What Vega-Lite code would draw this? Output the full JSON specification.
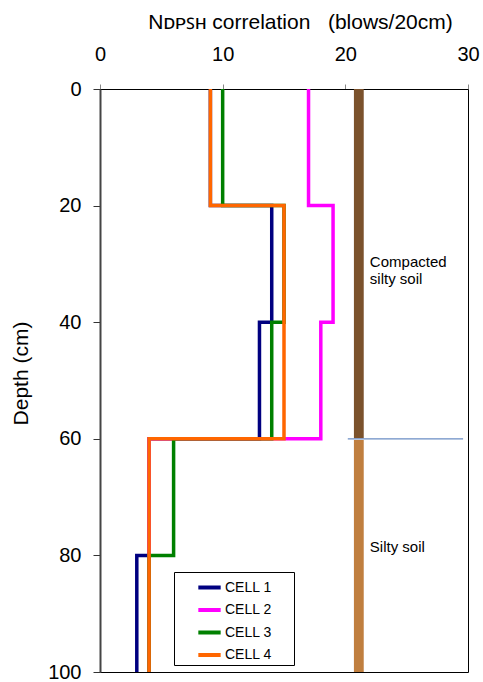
{
  "$schema": "https://vega.github.io/schema/vega-lite/v6.json",
  "width": 368,
  "height": 583,
  "autosize": {"type": "none"},
  "padding": {"left": 100, "top": 89, "right": 15, "bottom": 10},
  "background": "white",
  "config": {
    "font": "Liberation Sans",
    "view": {"stroke": "#000000", "strokeWidth": 1}
  },
  "datasets": {
    "cells": [
      {"cell": "CELL 1", "i": 1, "n": 9, "depth": 0},
      {"cell": "CELL 1", "i": 2, "n": 9, "depth": 20},
      {"cell": "CELL 1", "i": 3, "n": 14, "depth": 20},
      {"cell": "CELL 1", "i": 4, "n": 14, "depth": 40},
      {"cell": "CELL 1", "i": 5, "n": 13, "depth": 40},
      {"cell": "CELL 1", "i": 6, "n": 13, "depth": 60},
      {"cell": "CELL 1", "i": 7, "n": 4, "depth": 60},
      {"cell": "CELL 1", "i": 8, "n": 4, "depth": 80},
      {"cell": "CELL 1", "i": 9, "n": 3, "depth": 80},
      {"cell": "CELL 1", "i": 10, "n": 3, "depth": 100},
      {"cell": "CELL 2", "i": 1, "n": 17, "depth": 0},
      {"cell": "CELL 2", "i": 2, "n": 17, "depth": 20},
      {"cell": "CELL 2", "i": 3, "n": 19, "depth": 20},
      {"cell": "CELL 2", "i": 4, "n": 19, "depth": 40},
      {"cell": "CELL 2", "i": 5, "n": 18, "depth": 40},
      {"cell": "CELL 2", "i": 6, "n": 18, "depth": 60},
      {"cell": "CELL 2", "i": 7, "n": 4, "depth": 60},
      {"cell": "CELL 2", "i": 8, "n": 4, "depth": 100},
      {"cell": "CELL 3", "i": 1, "n": 10, "depth": 0},
      {"cell": "CELL 3", "i": 2, "n": 10, "depth": 20},
      {"cell": "CELL 3", "i": 3, "n": 15, "depth": 20},
      {"cell": "CELL 3", "i": 4, "n": 15, "depth": 40},
      {"cell": "CELL 3", "i": 5, "n": 14, "depth": 40},
      {"cell": "CELL 3", "i": 6, "n": 14, "depth": 60},
      {"cell": "CELL 3", "i": 7, "n": 6, "depth": 60},
      {"cell": "CELL 3", "i": 8, "n": 6, "depth": 80},
      {"cell": "CELL 3", "i": 9, "n": 4, "depth": 80},
      {"cell": "CELL 3", "i": 10, "n": 4, "depth": 100},
      {"cell": "CELL 4", "i": 1, "n": 9, "depth": 0},
      {"cell": "CELL 4", "i": 2, "n": 9, "depth": 20},
      {"cell": "CELL 4", "i": 3, "n": 15, "depth": 20},
      {"cell": "CELL 4", "i": 4, "n": 15, "depth": 60},
      {"cell": "CELL 4", "i": 5, "n": 4, "depth": 60},
      {"cell": "CELL 4", "i": 6, "n": 4, "depth": 100}
    ],
    "layers": [
      {"layer": "Compacted silty soil", "n": 20.7, "n2": 21.5, "depth": 0, "depth2": 59.9},
      {"layer": "Silty soil", "n": 20.7, "n2": 21.5, "depth": 60.2, "depth2": 100}
    ],
    "boundary": [
      {"n": 20.2, "n2": 29.6, "depth": 60}
    ],
    "labels": [
      {"label": "Compacted\nsilty soil", "n": 22, "depth": 29.7},
      {"label": "Silty soil", "n": 22, "depth": 78.5}
    ]
  },
  "layer": [
    {
      "data": {"name": "layers"},
      "transform": [{"filter": "datum.layer === 'Compacted silty soil'"}],
      "mark": {"type": "rect", "color": "#7B522C"},
      "encoding": {
        "x": {
          "field": "n", "type": "quantitative",
          "scale": {"domain": [0, 30], "nice": false, "zero": false},
          "axis": {
            "orient": "top",
            "values": [0, 10, 20, 30],
            "title": "Nᴅᴘꜱʜ correlation \u00a0\u00a0(blows/20cm)",
            "titleFontSize": 21,
            "titleFontWeight": "normal",
            "titleColor": "#000000",
            "titleX": 200,
            "titleY": -61,
            "titleAlign": "center",
            "titleBaseline": "alphabetic",
            "labelFontSize": 20,
            "labelColor": "#000000",
            "labelPadding": 20,
            "labelFlush": false,
            "tickSize": 5,
            "tickColor": "#888888",
            "domainColor": "#000000",
            "grid": false
          }
        },
        "x2": {"field": "n2"},
        "y": {
          "field": "depth", "type": "quantitative",
          "scale": {"domain": [0, 100], "reverse": true, "nice": false, "zero": false},
          "axis": {
            "values": [0, 20, 40, 60, 80, 100],
            "title": "Depth (cm)",
            "titleFontSize": 21,
            "titleFontWeight": "normal",
            "titleColor": "#000000",
            "titleX": -73,
            "titleY": 284,
            "titleAlign": "center",
            "titleBaseline": "alphabetic",
            "labelFontSize": 20,
            "labelColor": "#000000",
            "labelPadding": 12,
            "labelFlush": false,
            "tickSize": 7,
            "tickColor": "#333333",
            "domainColor": "#444444",
            "domainWidth": 2,
            "grid": false
          }
        },
        "y2": {"field": "depth2"}
      }
    },
    {
      "data": {"name": "layers"},
      "transform": [{"filter": "datum.layer === 'Silty soil'"}],
      "mark": {"type": "rect", "color": "#C07F3F"},
      "encoding": {
        "x": {"field": "n", "type": "quantitative"},
        "x2": {"field": "n2"},
        "y": {"field": "depth", "type": "quantitative"},
        "y2": {"field": "depth2"}
      }
    },
    {
      "data": {"name": "boundary"},
      "mark": {"type": "rule", "color": "#6A8DC4", "strokeWidth": 1.2},
      "encoding": {
        "x": {"field": "n", "type": "quantitative"},
        "x2": {"field": "n2"},
        "y": {"field": "depth", "type": "quantitative"}
      }
    },
    {
      "data": {"name": "cells"},
      "mark": {"type": "line", "strokeWidth": 3.5, "strokeJoin": "miter"},
      "encoding": {
        "x": {"field": "n", "type": "quantitative"},
        "y": {"field": "depth", "type": "quantitative"},
        "order": {"field": "i", "type": "quantitative"},
        "color": {
          "field": "cell", "type": "nominal",
          "scale": {
            "domain": ["CELL 1", "CELL 2", "CELL 3", "CELL 4"],
            "range": ["#000080", "#FF00FF", "#008000", "#FF6600"]
          },
          "legend": {
            "title": " ",
            "titleOrient": "right",
            "titlePadding": 20,
            "orient": "none",
            "legendX": 74,
            "legendY": 483,
            "symbolType": "stroke",
            "symbolSize": 500,
            "symbolStrokeWidth": 4,
            "symbolOffset": 20,
            "labelFontSize": 14,
            "labelColor": "#000000",
            "labelOffset": 2,
            "padding": 2,
            "rowPadding": 0.5,
            "strokeColor": "#000000",
            "fillColor": "#FFFFFF"
          }
        }
      }
    },
    {
      "data": {"name": "labels"},
      "mark": {"type": "text", "align": "left", "baseline": "middle", "fontSize": 15, "lineBreak": "\n", "color": "#000000"},
      "encoding": {
        "x": {"field": "n", "type": "quantitative"},
        "y": {"field": "depth", "type": "quantitative"},
        "text": {"field": "label"}
      }
    }
  ]
}
